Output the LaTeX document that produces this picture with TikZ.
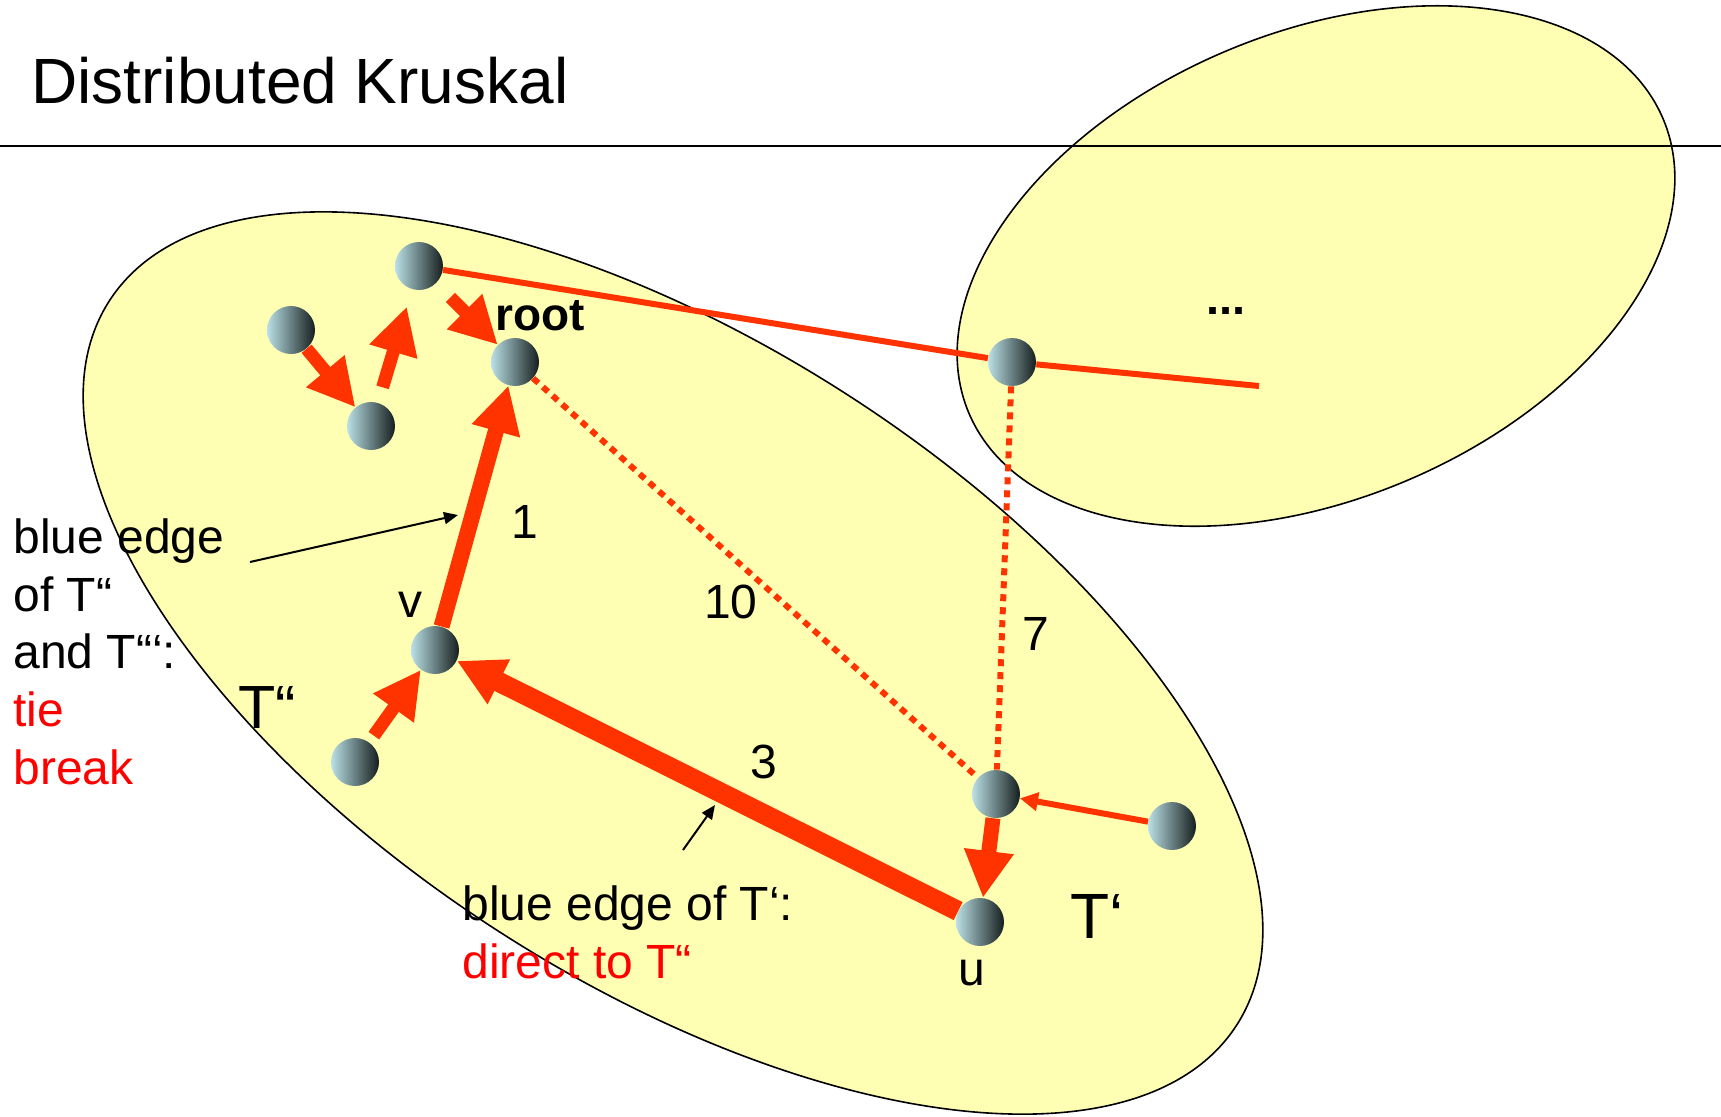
\documentclass[tikz,border=0pt]{standalone}
\usepackage{fontspec}
\setmainfont{Liberation Sans}
\usetikzlibrary{arrows.meta,positioning}
\definecolor{hotred}{RGB}{255,51,0}
\definecolor{paleyellow}{RGB}{255,255,180}
\definecolor{ballhi}{RGB}{186,224,230}
\definecolor{ballmid}{RGB}{140,170,175}
\definecolor{balllo}{RGB}{22,30,30}

\begin{document}
\begin{tikzpicture}[x=0.5pt,y=-0.5pt,
  ball/.style={circle,inner sep=0pt,minimum size=24pt,left color=ballhi,middle color=ballmid,right color=balllo},
  fat/.style={-{Triangle[length=23.5pt,width=23.5pt]},line width=6.5pt,hotred},
  slim/.style={-{Triangle[length=9pt,width=9pt]},line width=3pt,hotred},
  link/.style={line width=3pt,hotred},
  cand/.style={line width=3pt,hotred,dash pattern=on 3.5pt off 3pt},
  note/.style={-{Triangle[length=7pt,width=6pt]},line width=1pt},
  tree/.style={draw=black,line width=0.8pt,fill=paleyellow},
  txt/.style={font=\fontsize{24}{28.8}\selectfont,inner sep=0pt}]
  \fill[white] (0,0) rectangle (1721,1116);
  \useasboundingbox (0,0) rectangle (1721,1116);
  % fragments
  \draw[tree,shift={(673,663)},rotate=-32.7] (0,0) ellipse [x radius=670,y radius=320];
  \draw[tree,shift={(1316,266)},rotate=23] (0,0) ellipse [x radius=377,y radius=233];
  \draw[line width=1pt] (0,146) -- (1721,146);
  \node[anchor=base west,inner sep=0pt,font=\fontsize{32}{38}\selectfont] (title) at (31,103) {Distributed Kruskal};
  % vertices
  \node[ball] (p) at (291,330) {};
  \node[ball] (q) at (371,426) {};
  \node[ball] (s) at (419,266) {};
  \node[ball] (root) at (515,362) {};
  \node[ball] (v) at (435,650) {};
  \node[ball] (w) at (355,762) {};
  \node[ball] (x) at (996,794) {};
  \node[ball] (y) at (1172,826) {};
  \node[ball] (u) at (980,922) {};
  \node[ball] (f) at (1012,362) {};
  \coordinate (tail) at (1259,386);
  % edges
  \draw[link] (s) -- (f);
  \draw[link] (f) -- (tail);
  \draw[cand] (root) -- (x);
  \draw[cand] (f) -- (x);
  \draw[fat] (p) -- (q);
  \draw[fat,shorten <=8pt,shorten >=9pt] (q) -- (s);
  \draw[fat,shorten <=10pt] (s) -- (root);
  \draw[fat,line width=8pt] (v) -- (root);
  \draw[fat,line width=10pt] (u) -- (v);
  \draw[fat,shorten <=4pt] (w) -- (v);
  \draw[fat,line width=7.5pt] (x) -- (u);
  \draw[slim] (y) -- (x);
  % labels
  \node[txt,anchor=base west,font=\fontsize{23}{28}\bfseries] (lroot) at (495,330) {root};
  \node[txt,anchor=base] (lv) at (410,617) {v};
  \node[txt,anchor=base] (lu) at (972,985) {u};
  \node[txt,anchor=base] (w1) at (525,538) {1};
  \node[txt,anchor=base] (w10) at (731,618) {10};
  \node[txt,anchor=base] (w7) at (1036,650) {7};
  \node[txt,anchor=base] (w3) at (764,778) {3};
  \node[txt,anchor=base west,font=\fontsize{30.5}{36}\selectfont] (t2) at (238,728) {T“};
  \node[txt,anchor=base west,font=\fontsize{32}{38}\selectfont] (t1) at (1070,938) {T‘};
  \node[txt,anchor=base,font=\fontsize{23.5}{28.8}\bfseries] (more) at (1226,314) {...};
  \node[txt,anchor=base west,align=left] (why) at (13,784)
    {blue edge\\of T“\\and T“‘:\\\textcolor{red}{tie}\\\textcolor{red}{break}};
  \node[txt,anchor=base west,align=left] (dir) at (462,978)
    {blue edge of T‘:\\\textcolor{red}{direct to T“}};
  \coordinate (n1) at (250,562);
  \coordinate (h1) at (458,515);
  \coordinate (n2) at (683,850);
  \coordinate (h2) at (715,805);
  \draw[note] (n1) -- (h1);
  \draw[note] (n2) -- (h2);
\end{tikzpicture}
\end{document}
